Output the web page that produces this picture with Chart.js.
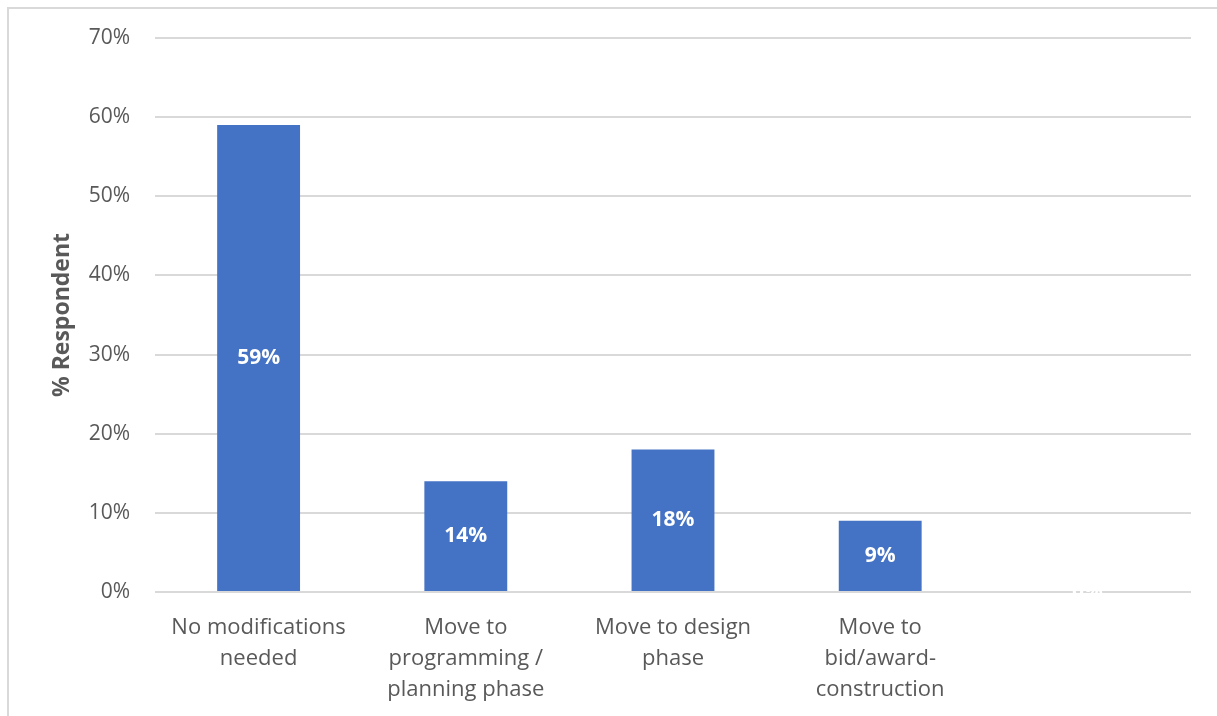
<!DOCTYPE html>
<html>
<head>
<meta charset="utf-8">
<title>% Respondent</title>
<script src="https://cdn.jsdelivr.net/npm/chart.js@4.4.1/dist/chart.umd.min.js"></script>
<style>
    html, body { margin: 0; padding: 0; background: #fff; overflow: hidden; }
    #frame {
        position: absolute; left: 7px; top: 7px; right: -10px; bottom: -10px;
        border-left: 2px solid #d9d9d9; border-top: 2px solid #d9d9d9;
    }
    #wrap { position: absolute; left: 0; top: 0; width: 1217px; height: 716px; }
</style>
</head>
<body>
<div id="frame"></div>
<div id="wrap"><canvas id="chart" width="1217" height="716"></canvas></div>
<script>
// categories and values (%)
const categories = [
    ['No modifications', 'needed'],
    ['Move to', 'programming /', 'planning phase'],
    ['Move to design', 'phase'],
    ['Move to', 'bid/award-', 'construction'],
    ''
];
const respondents = [59, 14, 18, 9, 0];
const yTicks = [0, 10, 20, 30, 40, 50, 60, 70];

const FONT = '"Open Sans", "Noto Sans", sans-serif';
const TEXT = '#595959';
const GRID = '#d9d9d9';
const BAR = '#4472C4';

// value labels, centred inside each bar
const barLabels = {
    id: 'barLabels',
    afterDatasetsDraw(chart) {
        const ctx = chart.ctx;
        const meta = chart.getDatasetMeta(0);
        ctx.save();
        ctx.fillStyle = '#ffffff';
        ctx.font = 'bold 21px ' + FONT;
        ctx.textAlign = 'center';
        ctx.textBaseline = 'middle';
        meta.data.forEach(function (bar, i) {
            const y = (bar.y + bar.base) / 2;
            ctx.fillText(Math.round(respondents[i]) + '%', bar.x, y);
        });
        ctx.restore();
    }
};

new Chart(document.getElementById('chart'), {
    type: 'bar',
    data: {
        labels: categories,
        datasets: [{
            data: respondents,
            backgroundColor: BAR,
            categoryPercentage: 1,
            barPercentage: 0.4
        }]
    },
    options: {
        responsive: false,
        animation: false,
        layout: { padding: { left: 50, right: 26, top: 38, bottom: 0 } },
        plugins: {
            legend: { display: false },
            tooltip: { enabled: false }
        },
        scales: {
            x: {
                grid: { display: false },
                border: { display: false },
                ticks: {
                    color: TEXT,
                    font: { family: FONT, size: 22, lineHeight: '31px' },
                    padding: 12,
                    maxRotation: 0,
                    autoSkip: false
                },
                afterFit: function (scale) { scale.height = 124; }
            },
            y: {
                min: 0,
                max: 70,
                afterBuildTicks: function (scale) {
                    scale.ticks = yTicks.map(function (v) { return { value: v }; });
                },
                grid: { color: GRID, lineWidth: 2, drawTicks: false },
                border: { display: false },
                ticks: {
                    color: TEXT,
                    font: { family: FONT, size: 21 },
                    padding: 25,
                    callback: function (v) { return v + '%'; }
                },
                title: {
                    display: true,
                    text: '% Respondent',
                    color: TEXT,
                    font: { family: FONT, size: 23, weight: 'bold', lineHeight: 1.1 },
                    padding: { top: 0, bottom: 0 }
                },
                afterFit: function (scale) { scale.width = 105; }
            }
        }
    },
    plugins: [barLabels]
});
</script>
</body>
</html>
